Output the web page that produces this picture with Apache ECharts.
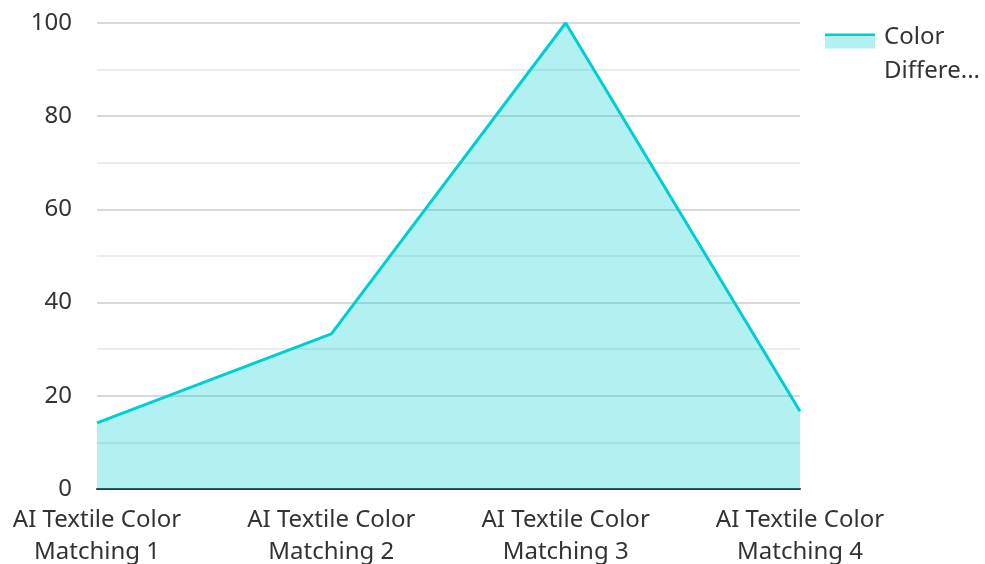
<!DOCTYPE html>
<html>
<head>
<meta charset="utf-8">
<script src="https://cdn.jsdelivr.net/npm/echarts@6/dist/echarts.min.js"></script>
<style>
  html, body { margin: 0; padding: 0; background: #fff; }
  #chart { width: 985px; height: 564px; }
</style>
</head>
<body>
<div id="chart"></div>
<script>
// Categories and values
const categories = [
  'AI Textile Color\nMatching 1',
  'AI Textile Color\nMatching 2',
  'AI Textile Color\nMatching 3',
  'AI Textile Color\nMatching 4'
];
const colorDifference = [14.2, 33.3, 100, 16.7];
const seriesName = 'Color Difference';
const yTicks = { min: 0, max: 100, interval: 20 };

const FONT = '"Noto Sans", "Open Sans", sans-serif';
const LINE = '#00CED1';
const AREA = 'rgba(0,206,209,0.3)';

const chart = echarts.init(document.getElementById('chart'), null, { renderer: 'canvas' });

chart.setOption({
  animation: false,
  textStyle: { fontFamily: FONT },
  grid: { left: 97, right: 185, top: 23, bottom: 75, containLabel: false, outerBoundsMode: 'none' },
  legend: {
    left: 825,
    top: 2,
    padding: 0,
    orient: 'vertical',
    itemWidth: 50,
    itemHeight: 15,
    itemGap: 10,
    icon: 'rect',
    align: 'left',
    itemStyle: {
      // solid stroke band along the top of the swatch, fill below
      color: {
        type: 'linear', x: 0, y: 0, x2: 0, y2: 1,
        colorStops: [
          { offset: 0, color: LINE }, { offset: 0.2, color: LINE },
          { offset: 0.2, color: AREA }, { offset: 1, color: AREA }
        ]
      },
      borderWidth: 0
    },
    // a short spacer line on top keeps the swatch level with the first text line
    formatter: () => '{e| }\n{t|Color}\n{t|Differe...}',
    textStyle: {
      fontFamily: FONT, fontSize: 24, color: '#333',
      rich: {
        e: { fontSize: 10, lineHeight: 26 },
        t: { fontFamily: FONT, fontSize: 24, color: '#333', lineHeight: 34, padding: [0, 0, 0, 4] }
      }
    }
  },
  xAxis: {
    type: 'category',
    data: categories,
    boundaryGap: false,
    axisLine: { show: true, lineStyle: { color: '#333', width: 2 } },
    axisTick: { show: false },
    axisLabel: { fontFamily: FONT, fontSize: 24, color: '#333', lineHeight: 32, margin: 15, interval: 0 },
    splitLine: { show: false }
  },
  yAxis: {
    type: 'value',
    min: yTicks.min,
    max: yTicks.max,
    interval: yTicks.interval,
    axisLine: { show: false },
    axisTick: { show: false },
    axisLabel: { fontFamily: FONT, fontSize: 24, color: '#333', margin: 25 },
    splitLine: { show: true, lineStyle: { color: '#cccccc', width: 1.5 } },
    minorTick: { show: false, splitNumber: 2 },
    minorSplitLine: { show: true, lineStyle: { color: '#e6e6e6', width: 1.5 } }
  },
  series: [{
    name: seriesName,
    type: 'line',
    data: colorDifference,
    showSymbol: false,
    symbol: 'none',
    lineStyle: { color: LINE, width: 3 },
    itemStyle: { color: LINE },
    areaStyle: { color: LINE, opacity: 0.3 }
  }]
});
</script>
</body>
</html>
